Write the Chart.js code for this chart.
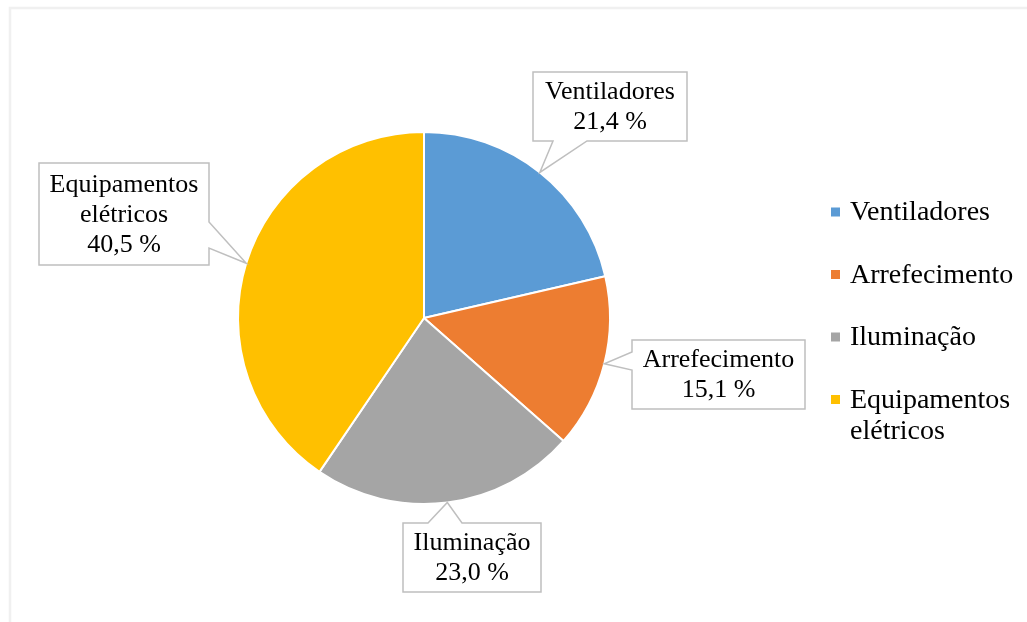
<!DOCTYPE html>
<html>
<head>
<meta charset="utf-8">
<script src="https://cdn.jsdelivr.net/npm/chart.js@4"></script>
<style>
  body { margin: 0; background: #fff; }
  #wrap { position: relative; width: 1027px; height: 622px; }
</style>
</head>
<body>
<div id="wrap"><canvas id="myChart" width="1027" height="622"></canvas></div>
<script>
var categories = ['Ventiladores', 'Arrefecimento', 'Iluminação', 'Equipamentos elétricos'];
var shares = [21.4, 15.1, 23.0, 40.5];
var sliceColors = ['#5B9BD5', '#ED7D31', '#A5A5A5', '#FFC000'];

var serif = '"Times New Roman", "Liberation Serif", serif';

// callout boxes: position, where the pointer leaves the box, and text lines
var callouts = [
    { x: 533, y: 72, w: 154, h: 69, side: 'bottom', base: [553, 587], lines: ['Ventiladores'] },
    { x: 632, y: 340, w: 173, h: 69, side: 'left', base: [352, 370], lines: ['Arrefecimento'] },
    { x: 403, y: 523, w: 138, h: 69, side: 'top', base: [428, 462], lines: ['Iluminação'] },
    { x: 39, y: 163, w: 170, h: 102, side: 'right', base: [222, 248], lines: ['Equipamentos', 'elétricos'] }
];

function pct(v) {
    return v.toFixed(1).replace('.', ',') + ' %';
}

function calloutPath(ctx, b, tip) {
    var x0 = b.x, y0 = b.y, x1 = b.x + b.w, y1 = b.y + b.h;
    ctx.beginPath();
    ctx.moveTo(x0, y0);
    if (b.side === 'top') {
        ctx.lineTo(b.base[0], y0); ctx.lineTo(tip.x, tip.y); ctx.lineTo(b.base[1], y0);
    }
    ctx.lineTo(x1, y0);
    if (b.side === 'right') {
        ctx.lineTo(x1, b.base[0]); ctx.lineTo(tip.x, tip.y); ctx.lineTo(x1, b.base[1]);
    }
    ctx.lineTo(x1, y1);
    if (b.side === 'bottom') {
        ctx.lineTo(b.base[1], y1); ctx.lineTo(tip.x, tip.y); ctx.lineTo(b.base[0], y1);
    }
    ctx.lineTo(x0, y1);
    if (b.side === 'left') {
        ctx.lineTo(x0, b.base[1]); ctx.lineTo(tip.x, tip.y); ctx.lineTo(x0, b.base[0]);
    }
    ctx.closePath();
}

var extras = {
    id: 'extras',
    beforeDraw: function (chart) {
        var ctx = chart.ctx;
        ctx.save();
        ctx.fillStyle = '#fff';
        ctx.fillRect(0, 0, chart.width, chart.height);
        // frame edges
        ctx.strokeStyle = '#f0f0f0';
        ctx.lineWidth = 2.5;
        ctx.beginPath();
        ctx.moveTo(10, chart.height);
        ctx.lineTo(10, 8);
        ctx.lineTo(chart.width, 8);
        ctx.stroke();
        ctx.restore();
    },
    afterDraw: function (chart) {
        var ctx = chart.ctx;
        var meta = chart.getDatasetMeta(0);
        ctx.save();

        // callout labels
        meta.data.forEach(function (arc, i) {
            var p = arc.getProps(['x', 'y', 'startAngle', 'endAngle', 'outerRadius'], true);
            var mid = (p.startAngle + p.endAngle) / 2;
            var tip = { x: p.x + Math.cos(mid) * p.outerRadius, y: p.y + Math.sin(mid) * p.outerRadius };
            var b = callouts[i];
            calloutPath(ctx, b, tip);
            ctx.fillStyle = '#fff';
            ctx.fill();
            ctx.strokeStyle = '#bfbfbf';
            ctx.lineWidth = 1.5;
            ctx.stroke();

            var lines = b.lines.concat([pct(shares[i])]);
            var lh = 30;
            var cy = b.y + b.h / 2 - (lines.length - 1) * lh / 2;
            ctx.fillStyle = '#000';
            ctx.font = '26px ' + serif;
            ctx.textAlign = 'center';
            ctx.textBaseline = 'middle';
            lines.forEach(function (t, k) {
                ctx.fillText(t, b.x + b.w / 2, cy + k * lh + 1);
            });
        });

        // legend
        var lx = 831, ly = 212, step = 62.5;
        ctx.font = '28px ' + serif;
        ctx.textAlign = 'left';
        ctx.textBaseline = 'middle';
        categories.forEach(function (name, i) {
            var y = ly + i * step;
            ctx.fillStyle = sliceColors[i];
            ctx.fillRect(lx, y - 4.5, 9, 9);
            ctx.fillStyle = '#000';
            var parts = name === 'Equipamentos elétricos' ? ['Equipamentos', 'elétricos'] : [name];
            parts.forEach(function (t, k) {
                ctx.fillText(t, lx + 19, y + k * 31 + 1);
            });
        });
        ctx.restore();
    }
};

var ctx = document.getElementById('myChart').getContext('2d');
var chart = new Chart(ctx, {
    type: 'pie',
    data: {
        labels: categories,
        datasets: [{
            data: shares,
            backgroundColor: sliceColors,
            borderColor: '#fff',
            borderWidth: 2
        }]
    },
    options: {
        responsive: false,
        animation: false,
        layout: { padding: { left: 237, right: 416, top: 131, bottom: 117 } },
        plugins: {
            legend: { display: false },
            tooltip: { enabled: false }
        }
    },
    plugins: [extras]
});
</script>
</body>
</html>
